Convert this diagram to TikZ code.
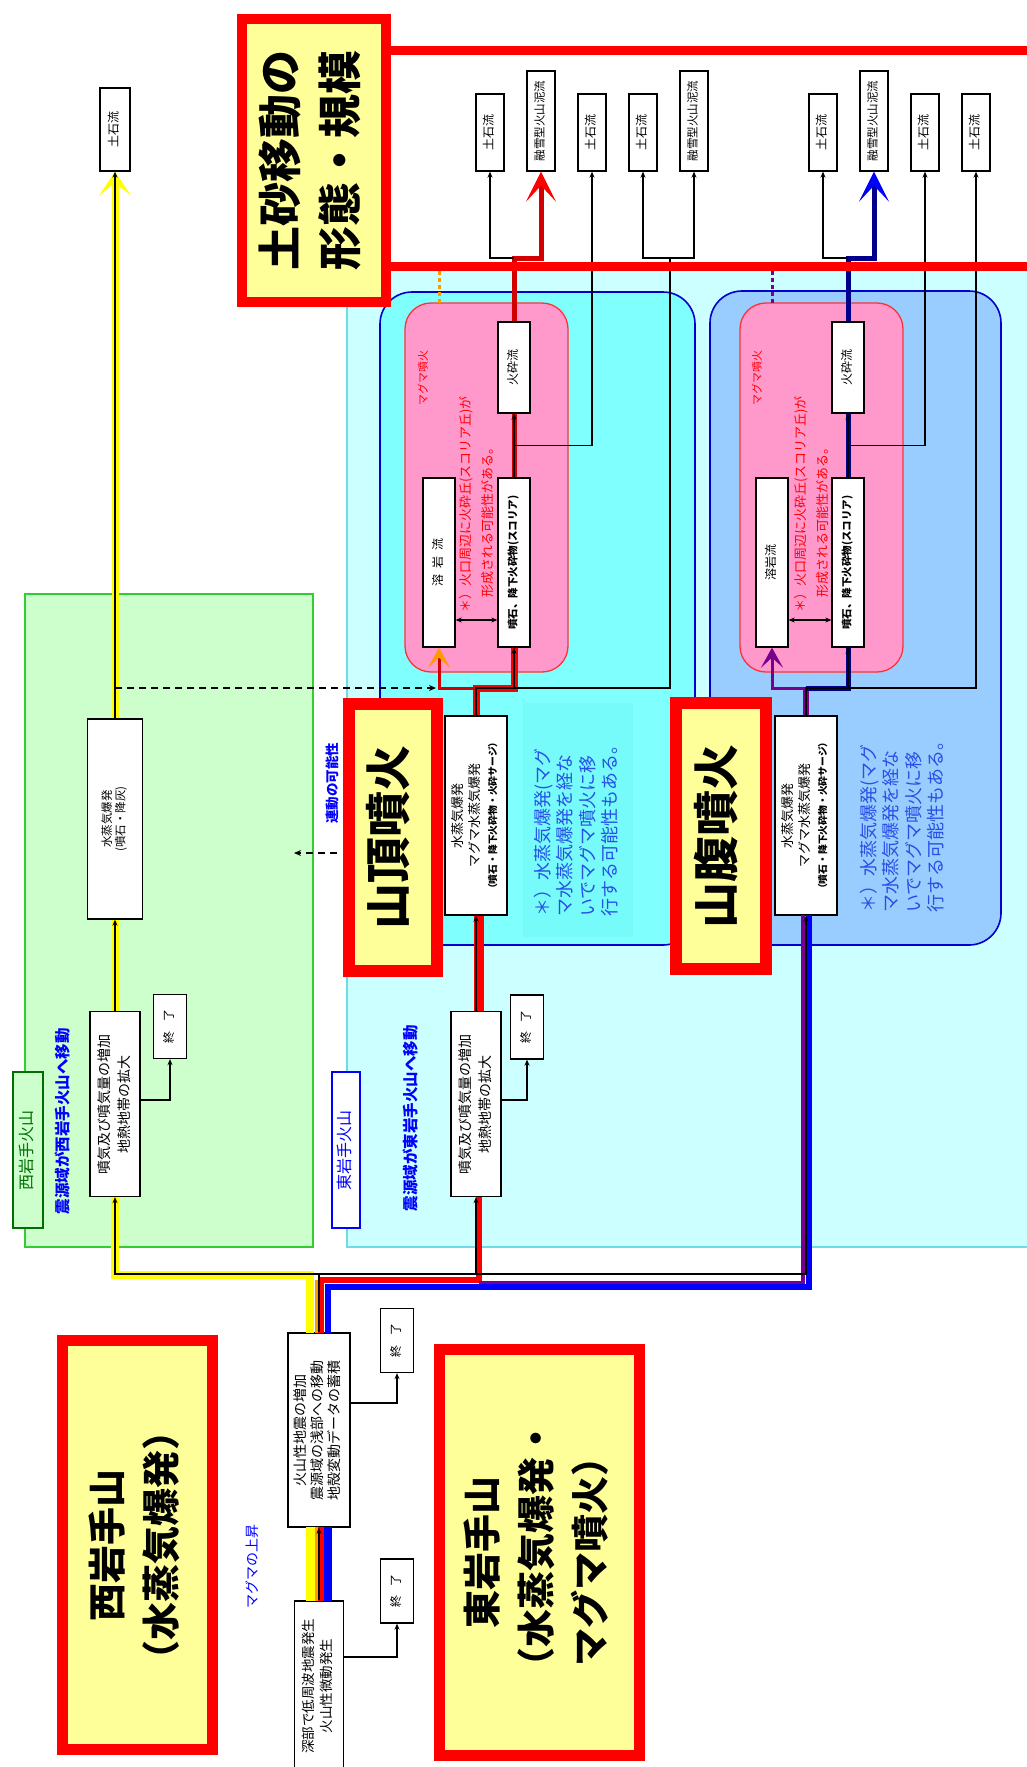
\documentclass[tikz,border=0pt]{standalone}
\usepackage{fontspec}
\setmainfont{Noto Sans CJK JP}
\usepackage{graphicx}
\usetikzlibrary{arrows.meta,calc}
\definecolor{grfill}{RGB}{204,255,204}
\definecolor{grline}{RGB}{51,204,51}
\definecolor{darkgr}{RGB}{0,110,0}
\definecolor{cyfill}{RGB}{204,255,255}
\definecolor{cyline}{RGB}{110,220,230}
\definecolor{topfill}{RGB}{128,255,255}
\definecolor{notefill}{RGB}{118,250,250}
\definecolor{sidefill}{RGB}{153,204,255}
\definecolor{zoneline}{RGB}{0,0,204}
\definecolor{pinkfill}{RGB}{255,153,204}
\definecolor{pinkline}{RGB}{255,51,51}
\definecolor{headred}{RGB}{255,0,0}
\definecolor{headyel}{RGB}{255,255,153}
\definecolor{labblue}{RGB}{0,0,255}
\definecolor{noteblue}{RGB}{40,80,230}
\definecolor{bandyel}{RGB}{255,255,0}
\definecolor{bandor}{RGB}{255,153,0}
\definecolor{bandred}{RGB}{255,0,0}
\definecolor{pathred}{RGB}{210,0,0}
\definecolor{bandblue}{RGB}{0,0,255}
\definecolor{pathnavy}{RGB}{0,0,140}
\definecolor{bandpur}{RGB}{120,0,140}
\newcommand{\vtxt}[1]{\rotatebox{90}{\begin{tabular}{@{}c@{}}#1\end{tabular}}}
\tikzset{
  box/.style={draw,line width=1.3pt,fill=white,inner sep=0pt,font=\fontsize{12}{15}\selectfont},
  dsr/.style={box,minimum width=28pt,minimum height=77pt,font=\fontsize{12}{14}\selectfont},
  yuu/.style={dsr,minimum height=100pt,font=\fontsize{11.5}{14}\selectfont},
  owari/.style={box,minimum width=33pt,minimum height=64pt},
  head/.style={draw=headred,fill=headyel,line width=11pt,inner sep=0pt},
  note/.style={rotate=90,anchor=west,align=left,inner sep=0pt,text=noteblue,
               font=\fontsize{18}{22.5}\selectfont},
  rnote/.style={rotate=90,anchor=west,align=left,inner sep=0pt,text=headred,
                font=\fontsize{13}{22}\selectfont},
  lab/.style={rotate=90,inner sep=0pt,text=labblue},
  arr/.style={-{Stealth[length=6pt,width=5pt]},line width=1.1pt},
  darr/.style={{Stealth[length=6pt,width=5pt]}-{Stealth[length=6pt,width=5pt]},line width=1.1pt},
  dasharr/.style={-{Stealth[length=7pt,width=6pt]},line width=1.3pt,dash pattern=on 7pt off 5pt},
  yband/.style={bandyel,line width=8pt},
  rband/.style={bandred,line width=7pt},
  bband/.style={bandblue,line width=7pt},
  dband/.style={pathred,line width=5pt},
  nband/.style={pathnavy,line width=5pt},
  pband/.style={bandpur,line width=5pt},
  bigchev/.style={-{Stealth[length=30pt,width=30pt,inset=16pt,color=#1]}},
  smallchev/.style={-{Stealth[length=20pt,width=22pt,inset=10pt,color=#1]}}
}
\begin{document}
\begin{tikzpicture}[x=1pt,y=-1pt]
\useasboundingbox (0,0) rectangle (1026,1767);
\fill[white] (0,0) rectangle (1026,1767);

% areas
\draw[grline,fill=grfill,line width=1.5pt] (25,594) rectangle (313,1247);
\draw[cyline,fill=cyfill,line width=1.5pt] (347,268) rectangle (1045,1247);
\draw[zoneline,fill=topfill,line width=1.6pt,rounded corners=32pt] (380,292) rectangle (695,945);
\draw[zoneline,fill=sidefill,line width=1.6pt,rounded corners=32pt] (710,291) rectangle (1001,945);
\fill[notefill] (523,703) rectangle (633,937);
\draw[pinkline,fill=pinkfill,line width=1.3pt,rounded corners=26pt] (405,303) rectangle (568,672);
\draw[pinkline,fill=pinkfill,line width=1.3pt,rounded corners=26pt] (740,303) rectangle (903,672);

% top row
\node[dsr,minimum width=30pt,minimum height=83pt] (dsr0) at (115,129.5) {\vtxt{土石流}};
\node[dsr] (dsr1) at (490,132.5) {\vtxt{土石流}};
\node[yuu] (yuu1) at (541,121) {\vtxt{融雪型火山泥流}};
\node[dsr] (dsr3) at (592,132.5) {\vtxt{土石流}};
\node[dsr] (dsr4) at (643,132.5) {\vtxt{土石流}};
\node[yuu] (yuu2) at (694,121) {\vtxt{融雪型火山泥流}};
\node[dsr] (dsr5) at (823,132.5) {\vtxt{土石流}};
\node[yuu] (yuu3) at (874,121) {\vtxt{融雪型火山泥流}};
\node[dsr] (dsr7) at (925,132.5) {\vtxt{土石流}};
\node[dsr] (dsr8) at (976,132.5) {\vtxt{土石流}};

% magma eruption boxes
\node[box,minimum width=32pt,minimum height=91pt] (kasai1) at (514,367.5) {\vtxt{火砕流}};
\node[box,minimum width=32pt,minimum height=91pt] (kasai2) at (848,367.5) {\vtxt{火砕流}};
\node[box,minimum width=32pt,minimum height=169pt] (yogan1) at (439,562.5) {\vtxt{溶\hspace{0.5em}岩\hspace{0.5em}流}};
\node[box,minimum width=32pt,minimum height=169pt] (yogan2) at (772,562.5) {\vtxt{溶岩流}};
\node[box,minimum width=32pt,minimum height=169pt,font=\bfseries\fontsize{10.5}{12}\selectfont]
  (funseki1) at (514,562.5) {\vtxt{噴石、降下火砕物(スコリア)}};
\node[box,minimum width=32pt,minimum height=169pt,font=\bfseries\fontsize{10.5}{12}\selectfont]
  (funseki2) at (848,562.5) {\vtxt{噴石、降下火砕物(スコリア)}};
\node[rotate=90,text=headred,font=\fontsize{11}{13}\selectfont] (mag1) at (423,378) {マグマ噴火};
\node[rotate=90,text=headred,font=\fontsize{11}{13}\selectfont] (mag2) at (757,378) {マグマ噴火};
\node[rnote] (rnote1) at (476,613) {＊）火口周辺に火砕丘(スコリア丘)が\\\hspace*{1.2em}形成される可能性がある。};
\node[rnote] (rnote2) at (811,613) {＊）火口周辺に火砕丘(スコリア丘)が\\\hspace*{1.2em}形成される可能性がある。};

% phreatic eruption boxes
\node[box,minimum width=62pt,minimum height=199pt,font=\fontsize{13}{17}\selectfont] (suij2) at (476,815.5)
  {\vtxt{水蒸気爆発\\マグマ水蒸気爆発\\{\bfseries\fontsize{9.8}{12}\selectfont（噴石・降下火砕物・火砕サージ）}}};
\node[box,minimum width=62pt,minimum height=199pt,font=\fontsize{13}{17}\selectfont] (suij3) at (806,815.5)
  {\vtxt{水蒸気爆発\\マグマ水蒸気爆発\\{\bfseries\fontsize{9.8}{12}\selectfont（噴石・降下火砕物・火砕サージ）}}};
\node[box,minimum width=55pt,minimum height=200pt,font=\fontsize{11.5}{13}\selectfont] (suij1) at (115,819)
  {\vtxt{水蒸気爆発\\(噴石・降灰)}};
\node[note] (note1) at (576,917) {＊）水蒸気爆発(マグ\\マ水蒸気爆発を経な\\いでマグマ噴火に移\\行する可能性もある。};
\node[note] (note2) at (902,913) {＊）水蒸気爆発(マグ\\マ水蒸気爆発を経な\\いでマグマ噴火に移\\行する可能性もある。};

% fumarole boxes
\node[box,minimum width=50pt,minimum height=185pt,font=\fontsize{14}{20}\selectfont] (hoki1) at (115,1104)
  {\vtxt{噴気及び噴気量の増加\\地熱地帯の拡大}};
\node[box,minimum width=50pt,minimum height=185pt,font=\fontsize{14}{20}\selectfont] (hoki2) at (476,1104)
  {\vtxt{噴気及び噴気量の増加\\地熱地帯の拡大}};
\node[owari] (owari3) at (170,1026.5) {\vtxt{終\hspace{0.8em}了}};
\node[owari] (owari4) at (527,1027) {\vtxt{終\hspace{0.8em}了}};

% volcano labels
\node[draw=darkgr,fill=grfill,line width=1.3pt,minimum width=30pt,minimum height=156pt,inner sep=0pt,
      text=darkgr,font=\fontsize{16}{18}\selectfont] (nishilab) at (28,1150) {\vtxt{西岩手火山}};
\node[draw=labblue,fill=white,line width=1.3pt,minimum width=28pt,minimum height=156pt,inner sep=0pt,
      text=labblue,font=\fontsize{16}{18}\selectfont] (higalab) at (346,1150) {\vtxt{東岩手火山}};
\node[lab,font=\bfseries\fontsize{15.5}{18}\selectfont] (nishimove) at (63,1121) {震源域が西岩手火山へ移動};
\node[lab,font=\bfseries\fontsize{15.5}{18}\selectfont] (higamove) at (411,1118) {震源域が東岩手火山へ移動};
\node[lab,font=\bfseries\fontsize{13.5}{16}\selectfont] (rendou) at (332,783) {連動の可能性};
\node[lab,font=\fontsize{14}{16}\selectfont] (magup) at (252,1566) {マグマの上昇};

% first stages
\node[box,minimum width=62pt,minimum height=194pt,font=\fontsize{14}{16.5}\selectfont] (kazan) at (319,1430)
  {\vtxt{火山性地震の増加\\震源域の浅部への移動\\地殻変動データの蓄積}};
\node[box,minimum width=49pt,minimum height=170pt,font=\fontsize{13.5}{18}\selectfont] (shinbu) at (319,1686)
  {\vtxt{深部で低周波地震発生\\火山性微動発生}};
\node[owari] (owari1) at (397,1340.5) {\vtxt{終\hspace{0.8em}了}};
\node[owari] (owari2) at (397,1591) {\vtxt{終\hspace{0.8em}了}};

\coordinate (r688) at (0,688);
\coordinate (r258) at (0,258);
\coordinate (r620) at (0,620);
\coordinate (jn) at (319,1274);
\coordinate (s1) at (suij2.north |- r688);
\coordinate (s2) at (suij3.north |- r688);
\coordinate (t1) at (670,258);
\coordinate (k1) at (kasai1.north |- r258);
\coordinate (k2) at (kasai2.north |- r258);

% trunk bands
\draw[yband,line width=9pt] (310,1601) -- (310,1527);
\draw[bandor,line width=3pt] (316,1601) -- (316,1527);
\draw[rband,line width=6pt] (320.5,1601) -- (320.5,1527);
\draw[bband,line width=8pt] (327.5,1601) -- (327.5,1527);
\draw[yband] (310,1333) -- (310,1275) -- (115,1275) -- (115,1196.5);
\draw[bandor,line width=3pt] (316,1333) -- (316,1280);
\draw[rband,line width=6pt] (320.5,1333) -- (320.5,1279.5) -- (479,1279.5) -- (479,1196.5);
\draw[bandpur,line width=4pt] (479,1282.5) -- (803,1282.5) -- (803,915);
\draw[bband,line width=6pt] (327.5,1333) -- (327.5,1286.5) -- (808.5,1286.5) -- (808.5,915);
\draw[arr] (shinbu) -- (kazan);
\draw[arr] (kazan.north) -- (jn) -| (hoki1);
\draw[arr] (jn) -| (hoki2);
\draw[arr] (jn) -| (suij3);
\draw[arr] ($(kazan.east)+(0,-27)$) -| (owari1);
\draw[arr] ($(shinbu.east)+(0,-29)$) -| (owari2);

% west
\draw[yband,line width=7pt] (hoki1) -- (suij1);
\draw[arr] (hoki1) -- (suij1);
\draw[yband,line width=7pt,-{Stealth[length=24pt,width=32pt,inset=13pt,color=bandyel]}] (suij1) -- (dsr0);
\draw[arr] (suij1) -- (dsr0);
\draw[arr] ($(hoki1.east)+(0,-4)$) -| (owari3);

% summit
\draw[rband,line width=10pt] ([xshift=3pt]hoki2.north) -- ([xshift=3pt]suij2.south);
\draw[arr] (hoki2) -- (suij2);
\draw[arr] ($(hoki2.east)+(0,-4)$) -| (owari4);
\draw[rband] (suij2.north) -- (s1) -| (funseki1.south);
\draw[dband,line width=3pt,smallchev=bandor] (s1) -| (yogan1);
\draw[arr] (suij2.north) -- (s1) -| (funseki1);
\draw[line width=1.1pt] (s1 -| funseki1.south) -- (s1 -| t1) -- (t1);
\draw[arr] (t1) -| (dsr4);
\draw[arr] (t1) -| (yuu2);
\draw[dband] (funseki1) -- (kasai1);
\draw[arr] (funseki1) -- (kasai1);
\draw[arr] ($(funseki1.north)!0.5!(kasai1.south)$) -| (dsr3);
\draw[dband,bigchev=bandred] (kasai1.north) -- (k1) -| (yuu1);
\draw[arr] (k1) -| (dsr1);
\draw[darr] (yogan1.east |- r620) -- (funseki1.west |- r620);
\draw[bandor,line width=3pt,dash pattern=on 4pt off 3pt] (439,303) -- (439,268);

% flank
\draw[pband,line width=6pt] (suij3.north) -- (s2);
\draw[pband,line width=3pt,smallchev=bandpur] (s2) -| (yogan2);
\draw[nband] (s2) -| (funseki2.south);
\draw[arr] (suij3.north) -- (s2) -| (funseki2);
\draw[arr] (s2 -| funseki2.south) -| (dsr8);
\draw[nband] (funseki2) -- (kasai2);
\draw[arr] (funseki2) -- (kasai2);
\draw[arr] ($(funseki2.north)!0.5!(kasai2.south)$) -| (dsr7);
\draw[nband,bigchev=bandblue] (kasai2.north) -- (k2) -| (yuu3);
\draw[arr] (k2) -| (dsr5);
\draw[darr] (yogan2.east |- r620) -- (funseki2.west |- r620);
\draw[bandpur,line width=3pt,dash pattern=on 4pt off 3pt] (772,303) -- (772,268);

% frame of the sediment movement row
\draw[headred,line width=9pt] (386,50) rectangle (1045,266);

% headings
\node[head,line width=10pt,minimum width=144pt,minimum height=283pt,font=\bfseries\fontsize{44}{60}\selectfont]
  (title) at (314,160.5) {\vtxt{土砂移動の\\形態・規模}};
\node[head,minimum width=150pt,minimum height=409pt,font=\bfseries\fontsize{38}{54}\selectfont]
  (nishihead) at (137.5,1545) {\vtxt{西岩手山\\（水蒸気爆発）}};
\node[head,minimum width=200pt,minimum height=406pt,font=\bfseries\fontsize{38}{54}\selectfont]
  (higahead) at (539.5,1552.5) {\vtxt{東岩手山\\（水蒸気爆発・\\マグマ噴火）}};
\node[head,line width=12pt,minimum width=88pt,minimum height=267pt,font=\bfseries\fontsize{46}{50}\selectfont]
  (sanchou) at (393,837.5) {\vtxt{山頂噴火}};
\node[head,line width=12pt,minimum width=90pt,minimum height=266pt,font=\bfseries\fontsize{46}{50}\selectfont]
  (sanpuku) at (721,836) {\vtxt{山腹噴火}};

% possible linkage
\draw[dasharr] (suij1.north |- r688) -- ($(yogan1.south |- r688)+(-3,0)$);
\draw[dasharr] ($(sanchou.west)+(-6,15.5)$) -- ++(-43,0);
\end{tikzpicture}
\end{document}
